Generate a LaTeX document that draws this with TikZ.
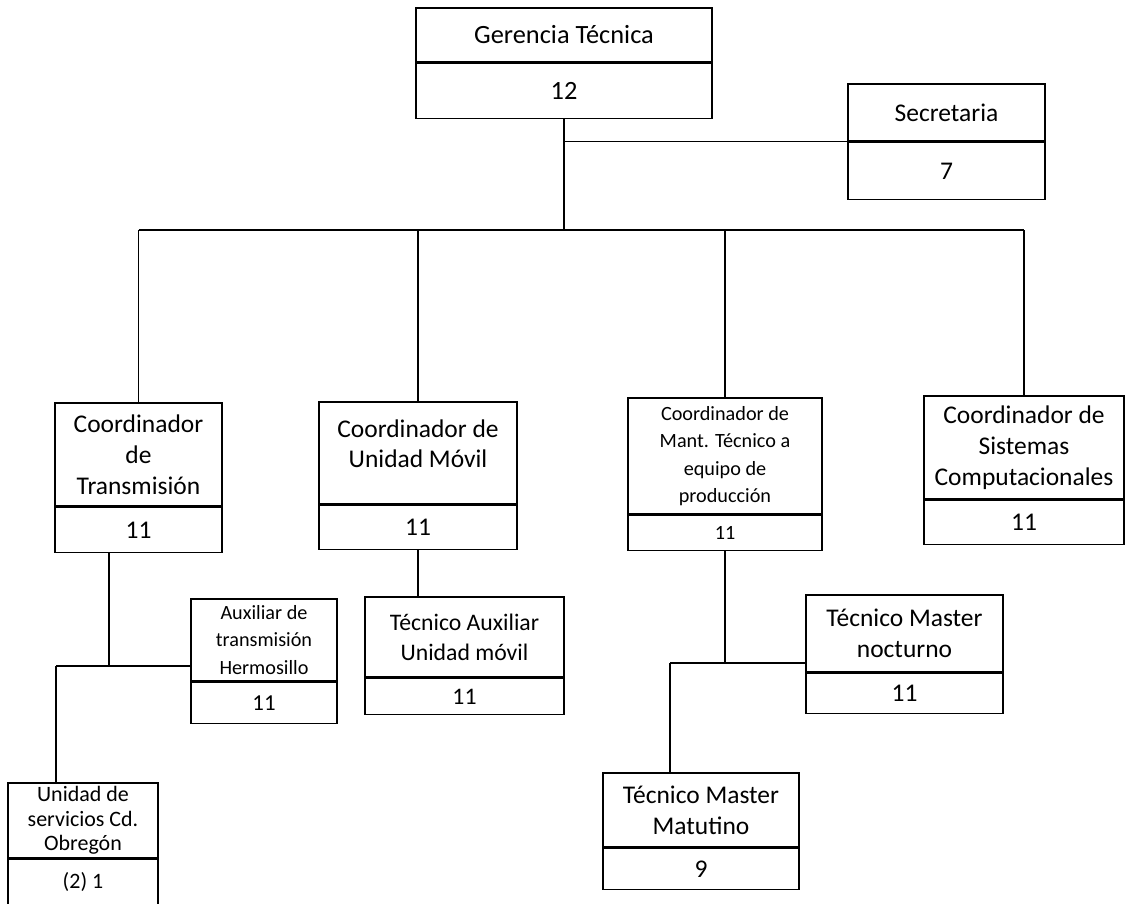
\documentclass[tikz,border=0pt]{standalone}
\usepackage{fontspec}
\setmainfont{Carlito}

\tikzset{
  box/.style={draw, line width=0.8pt, inner sep=0pt, align=center, font=\fontsize{14.5pt}{17.5pt}\selectfont},
  smallbox/.style={box, font=\fontsize{11.5pt}{15.5pt}\selectfont},
  link/.style={line width=0.8pt, black}
}

\begin{document}
\begin{tikzpicture}
                  \useasboundingbox (0,0) rectangle (22.54,-18.08);
                  % Gerencia box
                  \node [box,font=\fontsize{15pt}{18pt}\selectfont,minimum width=5.92cm,minimum height=1.08cm] (ger) at (11.28,-0.70) {Gerencia Técnica};
                  \node [box,font=\fontsize{15pt}{18pt}\selectfont,minimum width=5.92cm,minimum height=1.10cm,anchor=north] (gern) at (ger.south) {12};
                  % Secretaria box
                  \node [box,minimum width=3.94cm,minimum height=1.14cm] (sec) at (18.93,-2.25) {Secretaria};
                  \node [box,minimum width=3.94cm,minimum height=1.14cm,anchor=north] (secn) at (sec.south) {7};
                  % Coordinador boxes
                  \node [box,minimum width=3.34cm,minimum height=2.06cm] (trn) at (2.77,-9.09) {Coordinador\\de\\Transmisión};
                  \node [box,minimum width=3.34cm,minimum height=0.90cm,anchor=north] (trnn) at (trn.south) {11};
                  \node [box,minimum width=3.96cm,minimum height=2.04cm] (umv) at (8.36,-9.06) {Coordinador de\\Unidad Móvil\\[-7pt]~};
                  \node [box,minimum width=3.96cm,minimum height=0.88cm,anchor=north] (umvn) at (umv.south) {11};
                  \node [smallbox,minimum width=3.88cm,minimum height=2.32cm] (mnt) at (14.50,-9.12) {Coordinador de\\Mant. Técnico a\\equipo de\\producción};
                  \node [smallbox,minimum width=3.88cm,minimum height=0.70cm,anchor=north] (mntn) at (mnt.south) {11};
                  \node [box,minimum width=4.00cm,minimum height=2.06cm] (sis) at (20.48,-8.95) {Coordinador de\\Sistemas\\Computacionales};
                  \node [box,minimum width=4.00cm,minimum height=0.88cm,anchor=north] (sisn) at (sis.south) {11};
                  % lower boxes
                  \node [smallbox,minimum width=2.92cm,minimum height=1.64cm] (her) at (5.28,-12.80) {Auxiliar de\\transmisión\\Hermosillo};
                  \node [box,font=\fontsize{13pt}{15pt}\selectfont,minimum width=2.92cm,minimum height=0.82cm,anchor=north] (hern) at (her.south) {11};
                  \node [box,font=\fontsize{13.5pt}{17pt}\selectfont,minimum width=3.98cm,minimum height=1.60cm] (tec) at (9.29,-12.74) {Técnico Auxiliar\\Unidad móvil};
                  \node [box,font=\fontsize{13.5pt}{17pt}\selectfont,minimum width=3.98cm,minimum height=0.72cm,anchor=north] (tecn) at (tec.south) {11};
                  \node [box,font=\fontsize{12.5pt}{13.8pt}\selectfont,minimum width=3.00cm,minimum height=1.50cm] (obr) at (1.66,-16.41) {Unidad de\\servicios Cd.\\Obregón};
                  \node [box,font=\fontsize{12.5pt}{13.8pt}\selectfont,minimum width=3.00cm,minimum height=0.90cm,anchor=north] (obrn) at (obr.south) {(2) 1};
                  \node [box,minimum width=3.94cm,minimum height=1.54cm] (noc) at (18.09,-12.67) {Técnico Master\\nocturno};
                  \node [box,minimum width=3.94cm,minimum height=0.80cm,anchor=north] (nocn) at (noc.south) {11};
                  \node [box,minimum width=3.92cm,minimum height=1.48cm] (mat) at (14.02,-16.20) {Técnico Master\\Matutino};
                  \node [box,minimum width=3.92cm,minimum height=0.82cm,anchor=north] (matn) at (mat.south) {9};
                  % junction points
                  \coordinate (bus) at (11.28,-4.60);
                  \coordinate (jt) at (2.18,-13.32);
                  \coordinate (jo) at (1.12,-13.32);
                  \coordinate (jm) at (13.40,-13.26);
                  % trunk and bus
                  \draw [link] (gern.south) -- (bus);
                  \draw [link] (gern.south |- sec.south west) -- (sec.south west);
                  \draw [link] (trn.north |- bus) -- (sis.north |- bus);
                  \draw [link] (trn.north) -- (trn.north |- bus);
                  \draw [link] (umv.north) -- (umv.north |- bus);
                  \draw [link] (mnt.north) -- (mnt.north |- bus);
                  \draw [link] (sis.north) -- (sis.north |- bus);
                  % Transmision branch
                  \draw [link] (trnn.south -| jt) -- (jt);
                  \draw [link] (jo) -- (her.west |- jt);
                  \draw [link] (jo) -- (jo |- obr.north);
                  % Unidad movil branch
                  \draw [link] (umvn.south) -- (umvn.south |- tec.north);
                  % Mantenimiento branch
                  \draw [link] (mntn.south) -- (mntn.south |- jm);
                  \draw [link] (jm) -- (noc.west |- jm);
                  \draw [link] (jm) -- (jm |- mat.north);
\end{tikzpicture}
\end{document}
